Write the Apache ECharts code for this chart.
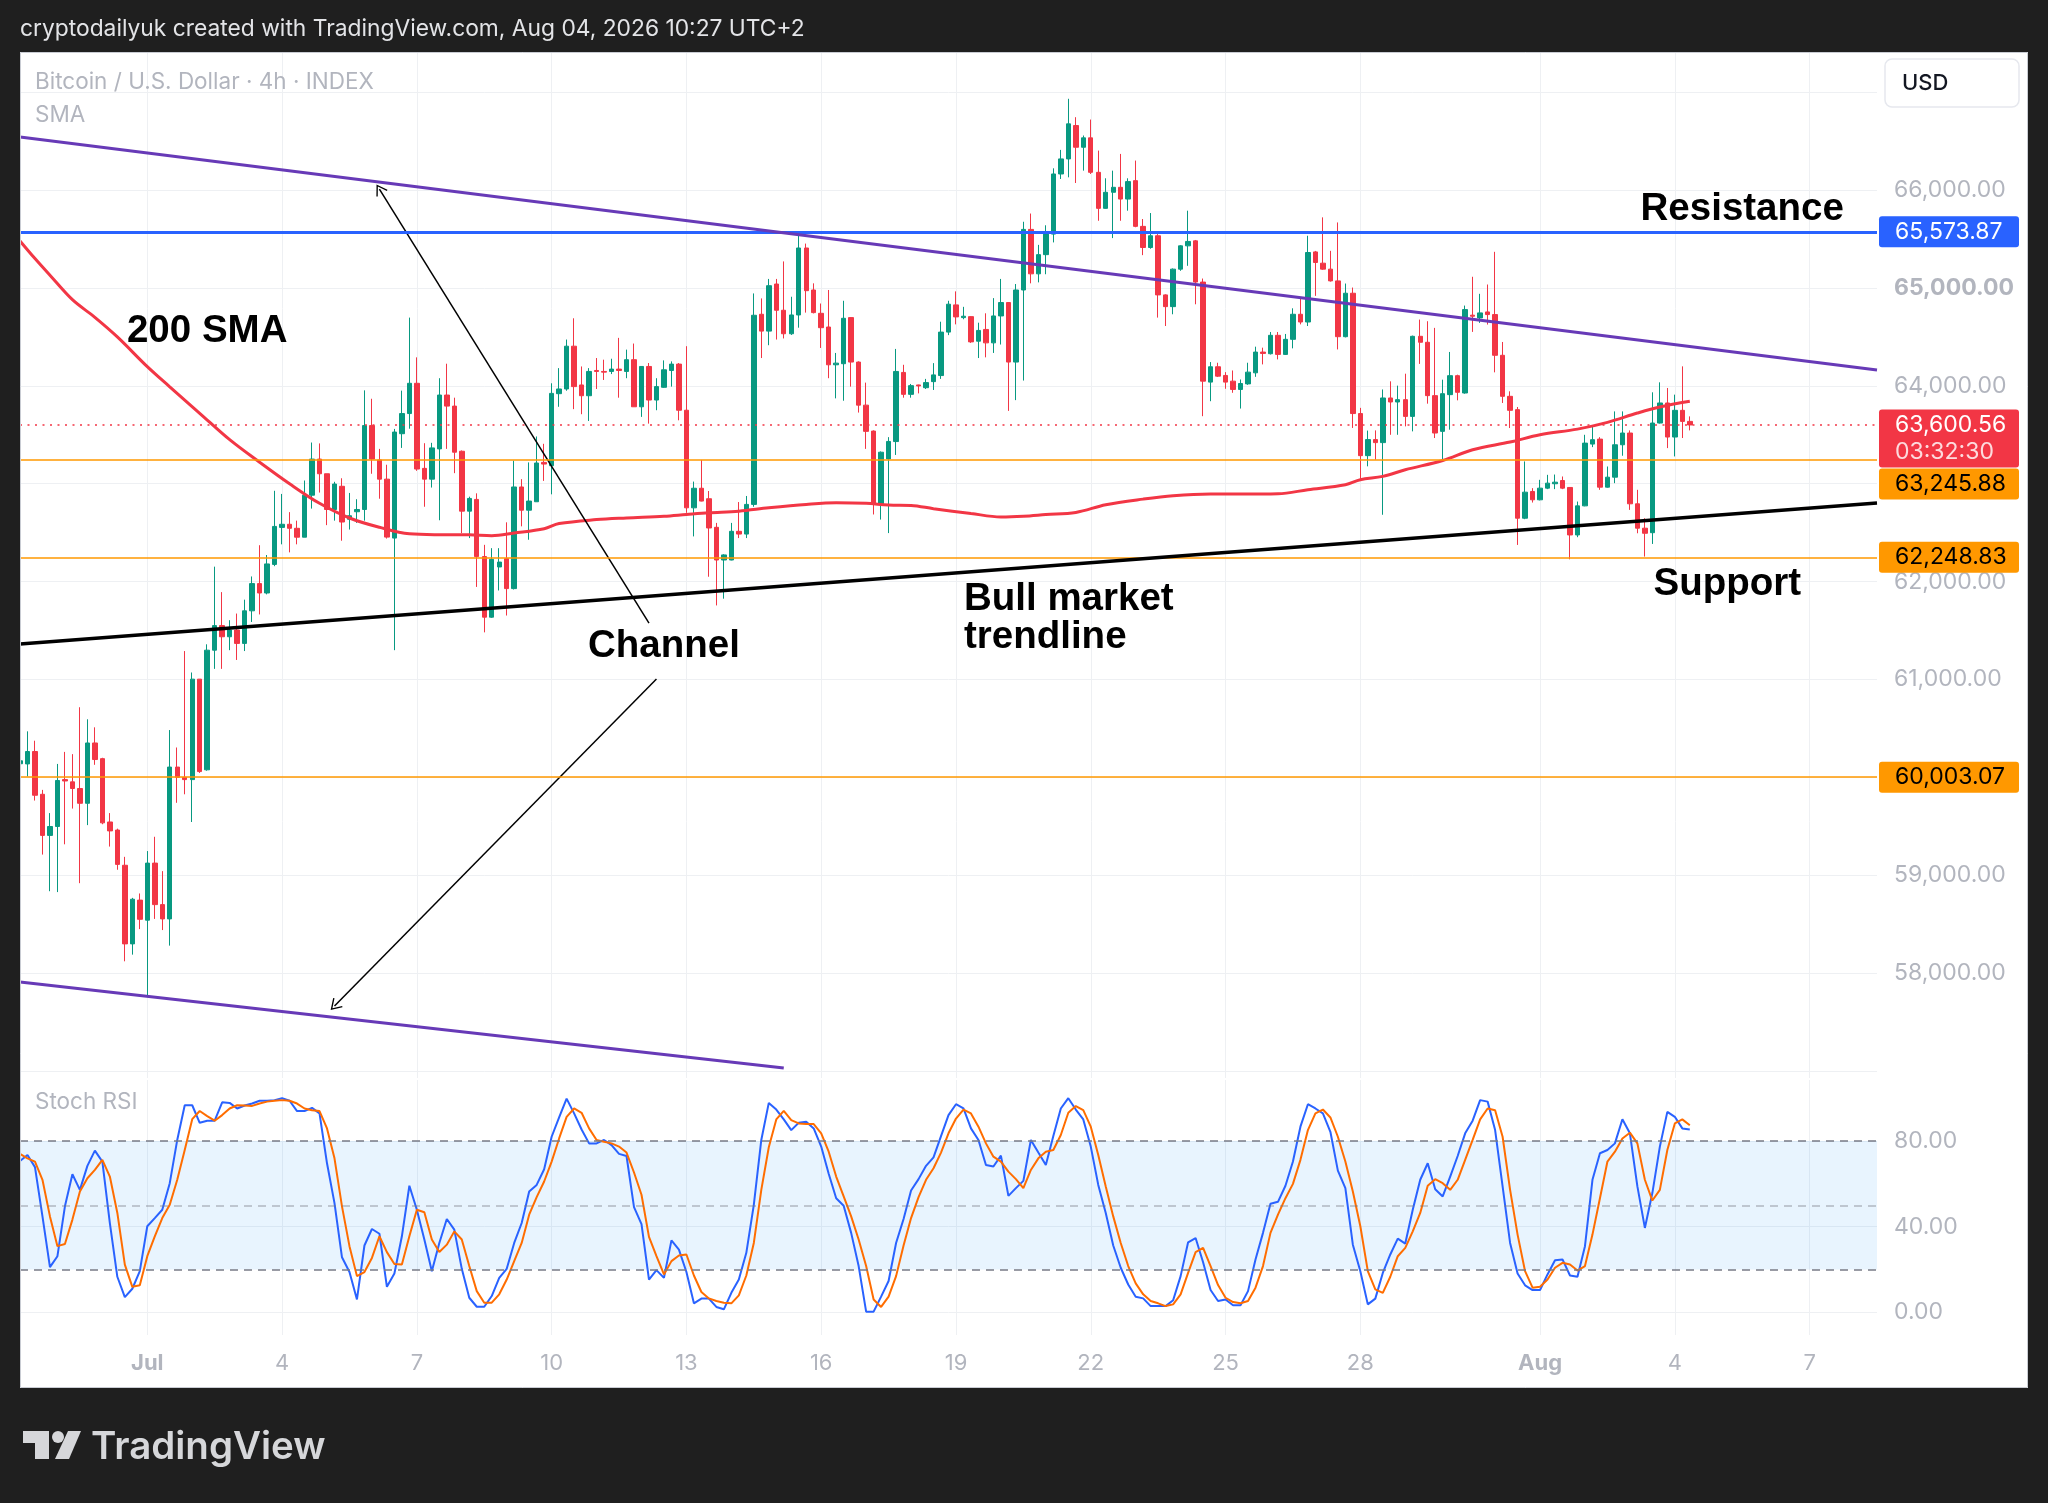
<!DOCTYPE html>
<html><head><meta charset="utf-8">
<script src="https://cdn.jsdelivr.net/npm/echarts@6/dist/echarts.min.js"></script>
<style>html,body{margin:0;padding:0;background:#1f1f1f;}#c{width:2048px;height:1503px;}</style>
</head><body><div id="c"></div>
<script>
// ---------- DATA ----------
const startUTC = Date.UTC(2026, 5, 28, 4, 0); // first 4h candle: Jun 28 04:00
const categoryCount = 249;                    // candles + empty right margin up to Aug 8

const opens = [
60140,60138,60265,59828,59408,59499,59978,59955,59887,59736,
60352,60192,59545,59463,59103,58300,58747,58542,59125,58701,
58555,60106,60001,59978,61004,60078,61300,61551,61437,61506,
61369,61702,61980,61884,62176,62554,62586,62545,62454,62883,
63252,63102,62737,62974,62637,62714,62737,63594,63243,63047,
62445,63511,63717,64026,63157,63047,63356,63906,63793,63332,
62720,62840,62256,61637,62150,62235,61929,62967,62730,62816,
63218,63184,63920,63968,64405,64009,63899,64157,64147,64147,
64171,64147,64267,63786,64198,63855,63985,64157,64222,63751,
62754,62954,62847,62555,62221,62221,62514,62486,62789,64731,
64559,65040,64772,64532,64724,65408,64979,64741,64601,64215,
64226,64697,64243,63803,63538,62789,63253,63431,64137,63913,
64009,63981,64043,64105,64549,64827,64697,64707,64456,64576,
64439,64714,64851,64243,64979,65598,65144,65340,65550,66164,
66318,66659,66437,66533,66181,65813,65977,66028,65908,66096,
65629,65413,65533,64929,64809,65192,65430,65481,65060,64038,
64195,64106,64048,63963,64020,64133,64345,64328,64516,64321,
64475,64731,64652,65368,65253,65192,65072,64502,64946,63717,
63287,63451,63420,63876,63835,63859,63688,64506,64445,63900,
63535,63910,64104,63927,64722,64694,64755,64728,64312,63893,
63757,62648,62921,62836,62955,63000,63033,62962,62477,62774,
63405,63456,62965,63067,63398,63518,62795,62546,62500,63620,
63825,63477,63750,63637];
const highs = [
60300,60471,60375,59873,59636,60138,60261,60238,60717,60594,
60512,60201,59636,59477,59189,58770,58815,59248,59394,59043,
60484,60306,61291,61072,61004,61360,62153,61893,61606,61674,
61816,62053,62372,62272,62928,62896,62710,62623,63033,63421,
63412,63102,63020,63056,62906,62842,63954,63868,63356,63194,
63560,63951,64697,64291,63414,63418,64078,64226,63879,63340,
62868,62902,62376,62342,62342,62606,63236,63047,63218,63483,
63408,64026,64181,64473,64690,64198,64181,64284,64267,64277,
64490,64370,64432,64200,64233,64078,64260,64250,64233,64405,
63022,63243,62926,62600,62280,62600,62813,62875,64944,64893,
65092,65092,65271,64910,65573,65453,65047,64841,64979,64336,
64869,64700,64250,64033,63545,63330,63476,64377,64215,64019,
64012,64071,64232,64655,64869,64965,64807,64710,64645,64741,
64896,65092,64855,65040,65676,65760,65440,65640,66222,66410,
66932,66744,66557,66720,66403,66120,66198,66369,66120,66301,
65704,65765,65550,64935,65199,65437,65789,65490,65096,64243,
64236,64140,64157,64065,64236,64400,64390,64550,64550,64530,
64792,64902,65533,65378,65721,65379,65669,65045,65004,63775,
63543,63545,63963,64046,64002,64124,64513,64677,64660,64592,
64063,64346,64114,64820,65114,64940,65035,65369,64448,63944,
63784,63228,62955,63040,63091,63094,63074,62965,62818,63500,
63593,63476,63176,63739,63739,63545,62938,62648,63934,64036,
63978,63910,64199,63688];
const lows = [
59680,60010,59764,59212,58838,58829,59317,59682,58920,59513,
60129,59522,59294,59057,58122,58190,58451,57776,58555,58441,
58282,59741,59828,59545,60046,60069,61109,61109,61300,61200,
61291,61588,61665,61870,62158,62381,62299,62381,62454,62746,
62910,62577,62623,62418,62532,62600,62623,63102,62847,62440,
61300,63366,63562,63132,62765,62961,62627,63356,63108,62496,
62445,61946,61482,61630,61910,61654,61920,62565,62428,62816,
63029,62892,63786,63950,63762,63710,63641,63968,64060,64120,
63879,64078,63786,63683,63614,63751,63980,63992,63648,62703,
62462,62820,62050,61757,61826,62218,62445,62445,62765,64284,
64415,64473,64484,64520,64594,64748,64740,64387,64078,63872,
63848,63992,63727,63356,62686,62634,62496,63294,63879,63879,
63923,63968,63958,64071,64518,64628,64680,64439,64284,64291,
64336,64422,63744,63854,64054,65047,65057,65140,65465,66113,
66130,66072,66198,66164,65686,65810,65509,65686,65789,65620,
65335,65400,64697,64611,64731,65175,65226,64833,63690,63843,
64090,63970,63929,63768,64010,64092,64219,64320,64270,64315,
64383,64628,64611,64919,65185,65065,64372,64495,63570,63048,
63178,63246,62683,63500,63500,63586,63535,64224,63818,63467,
63245,63552,63852,63920,64551,64643,64626,64138,63825,63569,
62375,62638,62808,62830,62945,62945,62945,62228,62454,62770,
63374,62938,62960,63006,63286,62733,62494,62256,62385,63615,
63364,63279,63467,63545];
const closes = [
60170,60265,59818,59408,59499,59969,59964,59887,59736,60352,
60183,59536,59454,59112,58300,58756,58551,59125,58701,58555,
60106,60001,59978,61004,60060,61300,61551,61437,61506,61369,
61702,61980,61884,62181,62564,62586,62545,62454,62883,63252,
63102,62737,62997,62609,62673,62737,63594,63252,63047,62455,
63528,63717,64026,63150,63047,63366,63906,63793,63322,62720,
62850,62256,61637,62228,62200,61929,62967,62730,62823,63212,
63201,63923,63968,64405,63992,63899,64147,64147,64140,64171,
64157,64267,63786,64198,63855,63992,64164,64222,63751,62754,
62954,62823,62548,62221,62273,62514,62486,62789,64721,64559,
65023,64772,64532,64724,65408,64972,64748,64594,64215,64232,
64690,64243,63803,63535,62789,63322,63432,64147,63913,64002,
63999,64033,64112,64549,64834,64704,64711,64449,64566,64439,
64714,64851,64243,64979,65598,65144,65340,65550,66164,66318,
66676,66437,66533,66181,65813,65977,66028,65908,66086,65629,
65413,65533,64929,64809,65192,65430,65475,65060,64048,64195,
64099,64038,63963,64024,64140,64345,64331,64516,64321,64475,
64731,64652,65362,65260,65192,65072,64502,64946,63717,63287,
63451,63420,63876,63835,63859,63688,64506,64445,63900,63518,
63920,64104,63934,64779,64711,64745,64728,64312,63893,63750,
62648,62914,62836,62955,63006,63016,62955,62477,62774,63415,
63450,62965,63067,63398,63518,62795,62546,62494,63620,63825,
63477,63750,63637,63600.56];

// 200 SMA readings: [candle index, value]
const smaPoints = [
[0,65480],[2,65300],[4,65130],[7,64880],[10,64700],[13,64500],[17,64196],[20,63990],[24,63720],
[28,63450],[32,63220],[36,63000],[40,62800],[44,62650],[48,62555],[52,62488],[56,62479],[60,62478],
[63,62469],[66,62496],[70,62540],[72,62593],[77,62634],[81,62651],[86,62668],[89,62686],[92,62703],
[96,62720],[100,62754],[105,62789],[109,62806],[113,62800],[116,62782],[119,62778],[122,62745],
[127,62696],[131,62661],[134,62668],[137,62685],[141,62707],[145,62785],[150,62843],[154,62878],
[159,62895],[163,62895],[168,62898],[172,62939],[177,62990],[179,63041],[182,63075],[185,63143],
[190,63238],[194,63347],[199,63426],[203,63500],[208,63558],[212,63627],[216,63722],[219,63784],[223,63842]];

const stochK = [
70.7,73.5,67.8,44.8,21.1,26.2,49.5,64.5,57.2,68.4,
75.5,70.4,41.7,16.6,7.1,11,19.2,40.2,44,47.9,
60.3,80.5,96.7,96.7,88.5,89.5,89.5,98.1,97.8,95.2,
96.6,97.5,98.8,98.8,99.1,100,98.8,94,94,95.5,
92.9,69.6,51,25.7,18.8,6,31.2,38.9,36.7,11.9,
18.1,35.5,59.1,47.9,34,19.2,32.4,43.6,38.6,20.3,
6.8,2.6,2.6,7.6,16.1,20.3,32.4,41.7,56.4,59.5,
66.8,82,91,99.8,92.9,85.4,78.9,78.9,80.5,78.1,
74,73,49.1,41.2,15.3,19.7,16.1,33.6,29.3,18.8,
4.2,6.4,6.4,2.5,1.4,9.1,15.3,27.8,50.2,80.5,
97.8,94.7,90.1,85.1,88.5,89,85.9,77.4,64.7,53.3,
49.8,37.1,21.6,0.3,0.3,7.3,14.6,32.4,43.6,56.9,
62.2,68.4,72.4,82.3,92.1,97.2,95.2,85.9,80.5,68.8,
68.1,73.2,54.4,58,61.4,80.5,74.6,68.8,82.3,95.2,
100,94.7,90.1,77.4,59.5,46.4,31.2,20.8,13,7.3,
6.5,2.9,2.9,2.9,5.6,16.9,32.7,34.7,23.4,10.4,
5.3,6,3.3,3.3,9.9,24.7,37.1,50.7,51.6,59.1,
70.4,86.7,97.2,95.2,92.9,84.3,66.2,58,31.6,19.2,
3.7,6.4,18.4,27,34.4,32.1,47.9,61.9,69.6,57.5,
54.1,63.4,73,83.6,89.5,99.1,98.4,85.1,58.8,32.4,
18.1,12.6,10.4,10.4,17.7,24.3,24.7,17.2,16.6,30.9,
61.9,74.3,75.8,78.9,90.2,83.6,58.8,39.4,55.7,77.4,
93.6,91.3,85.9,85.4];
const stochD = [
74,71.9,70.4,61.9,44.8,30.9,31.9,43.3,56.4,62.6,
66.5,71.2,63.4,46.4,22.3,11.9,12.6,26.2,35.5,44,
50.2,61.9,75.8,90.2,94,91.6,89.5,92.1,95.2,96.7,
96.6,96.4,97.5,98.4,98.8,99.1,98.8,97.5,95.2,94.4,
94,85.9,71.9,49.5,30.9,16.9,18.8,25.4,35.5,28.1,
22.6,22.3,35.5,47.9,46.7,34,28.2,31.6,37.8,34,
21.6,9.9,4.5,4.5,8.4,15.3,23.9,32.4,45.6,53.8,
61.1,70.4,81.2,91.3,95.2,93.2,85.9,80.5,79.7,78.9,
77.4,74.6,65.3,54.9,35.2,26.2,17.7,23.9,26.5,27,
17.2,9.5,6.5,5.3,4.5,4.2,7.9,17.2,32.4,57.2,
77.1,90.1,94.1,89.8,88.2,87.9,87.9,83.6,75,63.4,
54.1,44.8,34,21.6,6,2.5,7.3,16.9,31.2,44,
53.8,61.9,67.3,74.6,83.6,90.5,94.7,92.9,86.7,78.9,
72.7,70.4,65.7,62.2,58,66.5,71.9,75,75.8,82.8,
93.2,96.3,94.4,86.7,73.5,58.8,44.8,32.4,21.6,13.5,
8.4,5.3,4.2,2.9,3.7,8.4,18.4,28.1,30.1,21.6,
12.7,6.8,4.8,4.2,5.3,11.5,21.6,37.1,45.6,53.3,
60,71.2,85.1,92.9,94.7,91,82,70.4,56.4,40.2,
19.2,10.7,9.1,16.6,26.2,30.1,37.8,46.4,59.1,62.2,
60.3,57.2,61.9,71.2,80.5,90.1,95.2,94.4,82,57.2,
36.3,19.2,11.5,11.9,15.3,20.8,23.1,22.3,19.5,21.6,
36.3,53.3,70.4,75,81.2,83.9,78.9,61.9,52.2,57.2,
75.8,88.2,90.1,87.4];

const priceTicks = [58000,59000,60000,61000,62000,63000,64000,65000,66000];
const stochTicks = [0,40,80];
const timeTickDays = ['07-01','07-04','07-07','07-10','07-13','07-16','07-19','07-22','07-25','07-28','08-01','08-04','08-07'];
const timeTickLabels = ['Jul','4','7','10','13','16','19','22','25','28','Aug','4','7'];

const resistanceLevel = 65573.87;
const lastPrice = 63600.56;
const level1 = 63245.88;
const level2 = 62248.83;
const level3 = 60003.07;
const countdown = '03:32:30';

// drawn trendlines: [startIndex, startPrice, endIndex, endPrice]
const upperChannel = [0, 66541, 248, 64161];
const lowerChannel = [0, 57910, 102, 57032];
const bullTrend = [0, 61363, 248, 62803];
const arrowUp = [84, 61577, 48, 66010];
const arrowDown = [85, 61005, 42, 57665];
// annotation texts: [text, index, price]
const notes = [['200 SMA', 25, 64560], ['Channel', 86, 61340], ['Resistance', 230, 65800], ['Support', 228, 61975]];
const noteLeft = ['Bull market\ntrendline', 126, 61625];

// ---------- BUILD ----------
const pad = n => String(n).padStart(2, '0');
const cats = [];
for (let i = 0; i < categoryCount; i++) {
  const d = new Date(startUTC + i * 4 * 3600 * 1000);
  cats.push(d.getUTCFullYear() + '-' + pad(d.getUTCMonth() + 1) + '-' + pad(d.getUTCDate()) + ' ' + pad(d.getUTCHours()) + ':00');
}
const candles = opens.map((o, i) => [o, closes[i], lows[i], highs[i]]);
const smaData = smaPoints.map(p => [cats[p[0]], p[1]]);

const UP = '#089981', DOWN = '#f23645', GRID = '#eef0f3', LABEL = '#b2b5be', DARK = '#1f1f1f', NONE = 'rgba(0,0,0,0)';
const FONT = 'Inter';
const fmt = v => v.toLocaleString('en-US', {minimumFractionDigits: 2, maximumFractionDigits: 2});
const isTick = (idx, val) => val.slice(11) === '00:00' && timeTickDays.indexOf(val.slice(5, 10)) >= 0;
const seg = (a, style) => [{coord: [cats[a[0]], a[1]], lineStyle: style}, {coord: [cats[a[2]], a[3]]}];
const CHEVRON = 'path://M10,0 L20,16 L18.3,17.2 L10,4 L1.7,17.2 L0,16 Z';

const chart = echarts.init(document.getElementById('c'), null, {width: 2048, height: 1503, renderer: 'canvas'});

const option = {
  backgroundColor: '#ffffff',
  animation: false,
  grid: [
    {left: 20, right: 171, top: 52, height: 1026, containLabel: false, outerBoundsMode: 'none'},
    {left: 20, right: 171, top: 1080, height: 255, containLabel: false, outerBoundsMode: 'none'}
  ],
  xAxis: [
    {type: 'category', gridIndex: 0, data: cats, boundaryGap: false,
     axisLine: {show: false}, axisTick: {show: false}, axisLabel: {show: false, interval: isTick},
     splitLine: {show: true, interval: isTick, lineStyle: {color: GRID, width: 1}}},
    {type: 'category', gridIndex: 1, data: cats, boundaryGap: false,
     axisLine: {show: false}, axisTick: {show: false},
     axisLabel: {show: true, interval: isTick, margin: 17, color: LABEL, fontFamily: FONT, fontSize: 22,
       formatter: val => {
         const i = timeTickDays.indexOf(val.slice(5, 10));
         if (i < 0 || val.slice(11) !== '00:00') return '';
         const t = timeTickLabels[i];
         return isNaN(+t) ? '{m|' + t + '}' : t;
       },
       rich: {m: {fontWeight: 'bold', color: LABEL, fontFamily: FONT, fontSize: 22}}},
     splitLine: {show: true, interval: isTick, lineStyle: {color: GRID, width: 1}}}
  ],
  yAxis: [
    {type: 'value', gridIndex: 0, position: 'right', min: 56930, max: 67410, splitNumber: 10,
     minInterval: 1000, maxInterval: 1000,
     axisLine: {show: false}, axisTick: {show: false},
     splitLine: {show: true, lineStyle: {color: [NONE, GRID, GRID, GRID, GRID, GRID, GRID, GRID, GRID, GRID, GRID, GRID, NONE], width: 1}},
     axisLabel: {margin: 17, color: LABEL, fontFamily: FONT, fontSize: 23,
       formatter: v => priceTicks.indexOf(v) < 0 ? '' : (v === 65000 ? '{b|' + fmt(v) + '}' : fmt(v)),
       rich: {b: {fontWeight: 'bold', color: LABEL, fontFamily: FONT, fontSize: 23}}}},
    {type: 'value', gridIndex: 1, position: 'right', min: -10.6, max: 108.5, splitNumber: 3,
     minInterval: 40, maxInterval: 40,
     axisLine: {show: false}, axisTick: {show: false},
     splitLine: {show: true, lineStyle: {color: [NONE, GRID, GRID, GRID, NONE], width: 1}},
     axisLabel: {margin: 17, color: LABEL, fontFamily: FONT, fontSize: 23,
       formatter: v => stochTicks.indexOf(v) < 0 ? '' : v.toFixed(2)}}
  ],
  series: [
    {type: 'candlestick', name: 'BTCUSD', xAxisIndex: 0, yAxisIndex: 0, data: candles, barWidth: '66%',
     itemStyle: {color: UP, color0: DOWN, borderColor: UP, borderColor0: DOWN, borderWidth: 1},
     markLine: {silent: true, symbol: ['none', CHEVRON], symbolSize: [13, 11], label: {show: false},
       lineStyle: {color: '#000', width: 1.5, type: 'solid'},
       data: [seg(arrowUp), seg(arrowDown)]}},
    {type: 'line', name: 'SMA', xAxisIndex: 0, yAxisIndex: 0, data: smaData, smooth: 0.35,
     symbol: 'none', showSymbol: false, lineStyle: {color: DOWN, width: 3},
     markLine: {silent: true, symbol: ['none', 'none'], label: {show: false},
       data: [
         {yAxis: level3, lineStyle: {color: '#ff9800', width: 1.6, type: 'solid'}},
         {yAxis: level2, lineStyle: {color: '#ff9800', width: 1.6, type: 'solid'}},
         {yAxis: level1, lineStyle: {color: '#ff9800', width: 1.6, type: 'solid'}},
         {yAxis: lastPrice, lineStyle: {color: DOWN, width: 1.5, type: [2, 5.5]}},
         {yAxis: resistanceLevel, lineStyle: {color: '#2962ff', width: 3, type: 'solid'}},
         seg(upperChannel, {color: '#673ab7', width: 3, type: 'solid'}),
         seg(lowerChannel, {color: '#673ab7', width: 3, type: 'solid'}),
         seg(bullTrend, {color: '#000000', width: 3.5, type: 'solid'})
       ]},
     markPoint: {silent: true, symbol: 'circle', symbolSize: 1, itemStyle: {color: NONE},
       label: {show: true, position: 'inside', color: '#000', fontFamily: 'Liberation Sans', fontWeight: 'bold', fontSize: 38.5},
       data: notes.map(n => ({coord: [cats[n[1]], n[2]], label: {formatter: n[0]}})).concat([
         {coord: [cats[noteLeft[1]], noteLeft[2]], label: {formatter: noteLeft[0], position: 'right', distance: 0, lineHeight: 38, align: 'left'}}
       ])}},
    {type: 'line', name: 'K', xAxisIndex: 1, yAxisIndex: 1, data: stochK, symbol: 'none', showSymbol: false,
     lineStyle: {color: '#2962ff', width: 2},
     markArea: {silent: true, itemStyle: {color: 'rgba(33,150,243,0.1)'}, data: [[{yAxis: 20}, {yAxis: 80}]]}},
    {type: 'line', name: 'D', xAxisIndex: 1, yAxisIndex: 1, data: stochD, symbol: 'none', showSymbol: false,
     lineStyle: {color: '#ff6d00', width: 2},
     markLine: {silent: true, symbol: ['none', 'none'], label: {show: false},
       data: [
         {yAxis: 80, lineStyle: {color: '#787b86', width: 1.5, type: [8, 6]}},
         {yAxis: 50, lineStyle: {color: 'rgba(120,123,134,0.5)', width: 1.5, type: [8, 6]}},
         {yAxis: 20, lineStyle: {color: '#787b86', width: 1.5, type: [8, 6]}}
       ]}}
  ]
};
chart.setOption(option);

// ---------- CHROME & PRICE TAGS ----------
const yAt = p => chart.convertToPixel({yAxisIndex: 0}, p);
const txt = (x, y, text, font, fill, extra) => Object.assign({type: 'text', x: x, y: y, z: 120, silent: true,
  style: {text: text, font: font, fill: fill, textAlign: 'left', textVerticalAlign: 'middle', align: 'left', verticalAlign: 'middle'}}, extra || {});
const rect = (x, y, w, h, fill, z, r) => ({type: 'rect', z: z, silent: true,
  shape: {x: x, y: y, width: w, height: h, r: r || 0}, style: {fill: fill}});

const TAG_X = 1879, TAG_W = 140, TAG_H = 31, TAG_TX = 1895, TAG_FONT = '23px Inter';
const g = [];
g.push(rect(0, 0, 2048, 52, DARK, 50));
g.push(rect(0, 1388, 2048, 115, DARK, 50));
g.push(rect(0, 0, 20, 1503, DARK, 50));
g.push(rect(2028, 0, 20, 1503, DARK, 50));
g.push({type: 'rect', z: 51, silent: true, shape: {x: 20.5, y: 52.5, width: 2007, height: 1335}, style: {fill: 'none', stroke: '#c9ccd3', lineWidth: 1}});
g.push(txt(20, 29, 'cryptodailyuk created with TradingView.com, Aug 04, 2026 10:27 UTC+2', '22.8px Inter', '#e3e4e7'));
g.push(txt(35, 82, 'Bitcoin / U.S. Dollar \u00b7 4h \u00b7 INDEX', '22.5px Inter', LABEL));
g.push(txt(35, 115, 'SMA', '22.5px Inter', LABEL));
g.push(txt(35, 1102, 'Stoch RSI', '22.5px Inter', LABEL));
// USD box
g.push({type: 'rect', z: 110, silent: true, shape: {x: 1885, y: 59, width: 134, height: 48, r: 7}, style: {fill: '#ffffff', stroke: '#e6e8ee', lineWidth: 1.5}});
g.push(txt(1902, 83, 'USD', '500 22px Inter', '#131722'));
// price tags
const yB = yAt(resistanceLevel);
g.push(rect(TAG_X, yB - TAG_H / 2, TAG_W, TAG_H, '#2962ff', 110, 3));
g.push(txt(TAG_TX, yB, fmt(resistanceLevel), TAG_FONT, '#ffffff'));
const yR = yAt(lastPrice);
const redTop = yR - TAG_H / 2, redH = 58;
g.push(rect(TAG_X, redTop, TAG_W, redH, DOWN, 110, 3));
g.push(txt(TAG_TX, yR, fmt(lastPrice), TAG_FONT, '#ffffff'));
g.push(txt(TAG_TX, yR + 27, countdown, TAG_FONT, 'rgba(255,255,255,0.82)'));
const o1Top = Math.max(yAt(level1) - TAG_H / 2, redTop + redH + 1);
g.push(rect(TAG_X, o1Top, TAG_W, TAG_H, '#ff9800', 110, 3));
g.push(txt(TAG_TX, o1Top + TAG_H / 2, fmt(level1), TAG_FONT, '#000000'));
[level2, level3].forEach(lv => {
  const y = yAt(lv);
  g.push(rect(TAG_X, y - TAG_H / 2, TAG_W, TAG_H, '#ff9800', 110, 3));
  g.push(txt(TAG_TX, y, fmt(lv), TAG_FONT, '#000000'));
});
// TradingView logo
const LOGO = '#d6d7da';
g.push({type: 'polygon', z: 120, silent: true, shape: {points: [[23, 1431], [49, 1431], [49, 1459], [35, 1459], [35, 1443], [23, 1443]]}, style: {fill: LOGO}});
g.push({type: 'circle', z: 120, silent: true, shape: {cx: 58, cy: 1437, r: 6}, style: {fill: LOGO}});
g.push({type: 'polygon', z: 120, silent: true, shape: {points: [[68, 1431], [81, 1431], [69, 1459], [55, 1459]]}, style: {fill: LOGO}});
g.push(txt(91, 1447, 'TradingView', '600 38.5px Inter', LOGO));

chart.setOption({graphic: {elements: g}});
</script>
</body></html>
